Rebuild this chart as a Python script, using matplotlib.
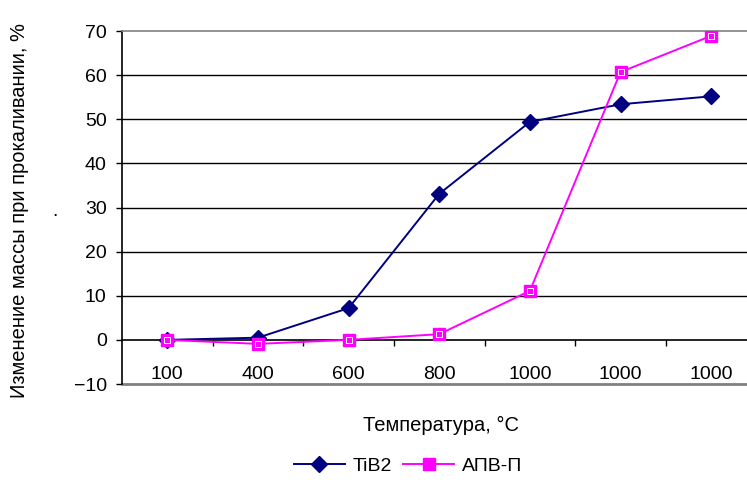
import matplotlib.pyplot as plt
from matplotlib.ticker import FixedLocator, MultipleLocator

plt.rcParams['font.family'] = ['Liberation Sans', 'DejaVu Sans']

temps = ["100", "400", "600", "800", "1000", "1000", "1000"]
tib2 = [0.0, 0.5, 7.2, 33.1, 49.4, 53.4, 55.2]
apv_p = [0.0, -0.9, 0.0, 1.3, 11.1, 60.7, 68.9]


def main():
    fig = plt.figure(figsize=(7.47, 4.84), dpi=100)
    ax = fig.add_axes([0.1633, 0.2066, 0.8494, 0.7293])

    x = list(range(len(temps)))
    ax.plot(x, tib2, color='#000080', lw=1.4, marker='D', ms=8,
            mfc='#000080', mec='#000080', label='TiB2', zorder=4)
    ax.plot(x, apv_p, color='#FF00FF', lw=1.4, marker='s', ms=8,
            mfc='#FF00FF', mec='#FF00FF', label='АПВ-П', zorder=5)
    # thin white rim inside the square markers
    ax.plot(x, apv_p, ls='none', marker='s', ms=5, mfc='none',
            mec='white', mew=0.7, zorder=6)

    ax.set_xlim(-0.5, len(temps) - 0.5)
    ax.set_ylim(-10, 70)

    ax.yaxis.set_major_locator(MultipleLocator(10))
    ax.tick_params(axis='y', direction='out', length=4, width=1,
                   labelsize=14, pad=7)
    for yv in range(10, 70, 10):
        ax.axhline(yv, color='black', lw=1, zorder=1)

    # category axis crosses at zero
    ax.spines['bottom'].set_position(('data', 0))
    ax.spines['bottom'].set_linewidth(1.2)
    ax.set_xticks(x)
    ax.set_xticklabels(temps)
    ax.xaxis.set_minor_locator(FixedLocator([i + 0.5 for i in x[:-1]]))
    ax.tick_params(axis='x', which='major', length=0, labelsize=14, pad=19)
    ax.tick_params(axis='x', which='minor', direction='out', length=4, width=1)

    ax.spines['left'].set_linewidth(1.2)
    ax.spines['right'].set_visible(False)
    ax.spines['top'].set_color('#808080')
    ax.spines['top'].set_linewidth(1.2)
    ax.axhline(-10, color='#808080', lw=2, clip_on=False, zorder=2)

    fig.text(20 / 747, 1 - 210 / 484, 'Изменение массы при прокаливании, %',
             rotation=90, ha='center', va='center', fontsize=14.5)
    fig.text(55 / 747, 1 - 212 / 484, '.', ha='center', va='center',
             fontsize=14)
    fig.text(441 / 747, 1 - 425 / 484, 'Температура, °С', ha='center',
             va='center', fontsize=14.5)

    fig.legend(loc='center', bbox_to_anchor=(408 / 747, 1 - 466 / 484),
               ncol=2, frameon=False, fontsize=14, handlelength=2.6,
               columnspacing=0.6, handletextpad=0.4,
               handles=ax.get_lines()[:2])

    fig.savefig('out.png', dpi=100)


if __name__ == '__main__': main()
